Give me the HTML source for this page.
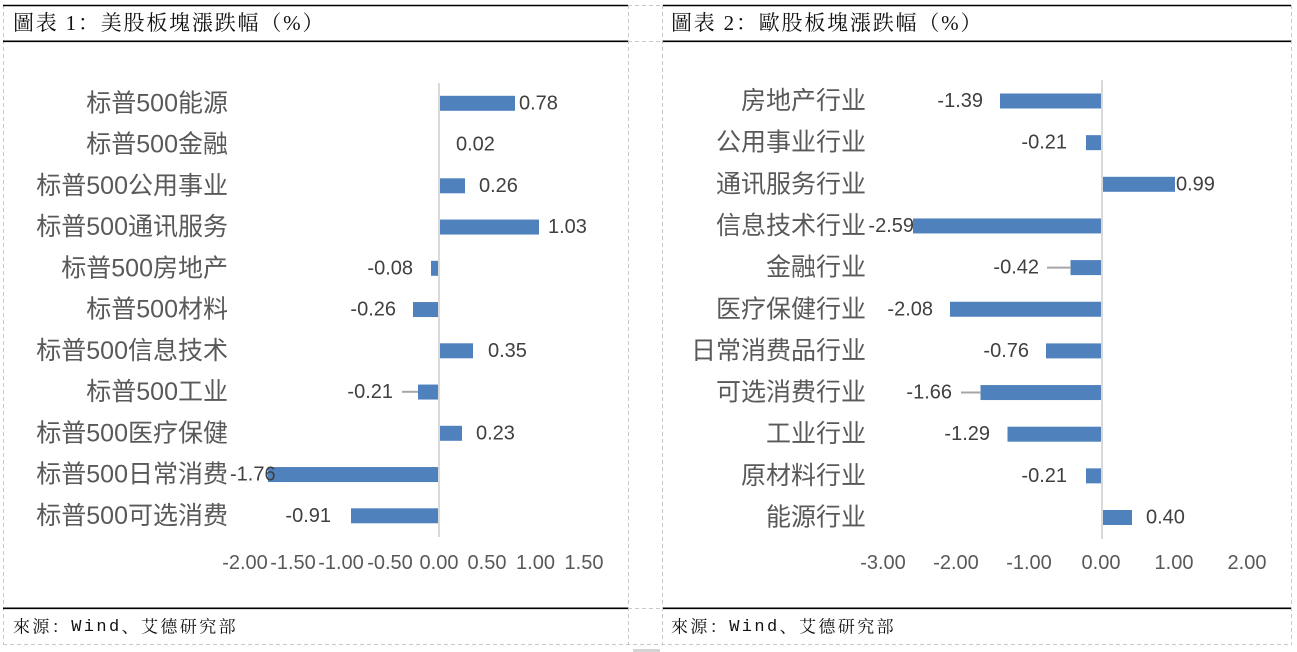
<!DOCTYPE html>
<html>
<head>
<meta charset="utf-8">
<style>
html,body{margin:0;padding:0;background:#fff;}
body{width:1297px;height:652px;overflow:hidden;}
svg{display:block;}
.hd{font-family:"Liberation Serif","Noto Serif CJK SC",serif;font-size:21px;fill:#111;letter-spacing:1.8px;}
.src{font-family:"Liberation Serif","Noto Serif CJK SC",serif;font-size:17px;fill:#111;letter-spacing:2.4px;}
.cat{font-family:"Liberation Sans","Noto Sans CJK SC",sans-serif;font-size:25px;fill:#595959;}
.dl{font-family:"Liberation Sans","Noto Sans CJK SC",sans-serif;font-size:20px;fill:#404040;}
.tk{font-family:"Liberation Sans","Noto Sans CJK SC",sans-serif;font-size:20px;fill:#595959;}
</style>
</head>
<body>
<svg width="1297" height="652" viewBox="0 0 1297 652" xmlns="http://www.w3.org/2000/svg">
  <g stroke="#c8c8c8" stroke-width="1" stroke-dasharray="4,3" fill="none">
    <line x1="3.5" y1="5" x2="3.5" y2="645"/>
    <line x1="628.5" y1="5" x2="628.5" y2="645"/>
    <line x1="662.5" y1="5" x2="662.5" y2="645"/>
    <line x1="1291.5" y1="5" x2="1291.5" y2="645"/>
    <line x1="628" y1="5.5" x2="663" y2="5.5"/>
    <line x1="628" y1="41.5" x2="663" y2="41.5"/>
    <line x1="628" y1="608.5" x2="663" y2="608.5"/>
    <line x1="3" y1="644.5" x2="1292" y2="644.5"/>
  </g>
  <rect x="633" y="649" width="27" height="3" fill="#d4d4d4"/>
  <g stroke="#000" stroke-width="1.6">
    <line x1="3" y1="5.5" x2="628" y2="5.5"/>
    <line x1="663" y1="5.5" x2="1291" y2="5.5"/>
    <line x1="3" y1="41.3" x2="628" y2="41.3"/>
    <line x1="663" y1="41.3" x2="1291" y2="41.3"/>
    <line x1="3" y1="608.3" x2="628" y2="608.3"/>
    <line x1="663" y1="608.3" x2="1291" y2="608.3"/>
  </g>
  <text class="hd" x="13" y="23" dominant-baseline="central">圖表 1：美股板塊漲跌幅（%）</text>
  <text class="hd" x="671" y="23" dominant-baseline="central">圖表 2：歐股板塊漲跌幅（%）</text>
  <text class="src" x="13" y="627" dominant-baseline="central">來源：<tspan font-family="Liberation Mono, monospace">Wind</tspan>、艾德研究部</text>
  <text class="src" x="671" y="627" dominant-baseline="central">來源：<tspan font-family="Liberation Mono, monospace">Wind</tspan>、艾德研究部</text>

  <!-- LEFT CHART -->
  <g fill="#4f81bd">
    <rect x="440" y="95.8" width="75" height="15"/>
    <rect x="440" y="178.3" width="25" height="15"/>
    <rect x="440" y="219.55" width="99" height="15"/>
    <rect x="431" y="260.8" width="7" height="15"/>
    <rect x="413" y="302.05" width="25" height="15"/>
    <rect x="440" y="343.3" width="33" height="15"/>
    <rect x="418" y="384.55" width="20" height="15"/>
    <rect x="440" y="425.8" width="22" height="15"/>
    <rect x="268" y="467.05" width="170" height="15"/>
    <rect x="351" y="508.3" width="87" height="15"/>
  </g>
  <line x1="439" y1="83" x2="439" y2="537" stroke="#d9d9d9" stroke-width="2"/>
  <line x1="402" y1="391.8" x2="418" y2="391.8" stroke="#a6a6a6" stroke-width="2"/>
  <g class="cat" text-anchor="end">
    <text x="228" y="103.3" dominant-baseline="central">标普500能源</text>
    <text x="228" y="144.55" dominant-baseline="central">标普500金融</text>
    <text x="228" y="185.8" dominant-baseline="central">标普500公用事业</text>
    <text x="228" y="227.05" dominant-baseline="central">标普500通讯服务</text>
    <text x="228" y="268.3" dominant-baseline="central">标普500房地产</text>
    <text x="228" y="309.55" dominant-baseline="central">标普500材料</text>
    <text x="228" y="350.8" dominant-baseline="central">标普500信息技术</text>
    <text x="228" y="392.05" dominant-baseline="central">标普500工业</text>
    <text x="228" y="433.3" dominant-baseline="central">标普500医疗保健</text>
    <text x="228" y="474.55" dominant-baseline="central">标普500日常消费</text>
    <text x="228" y="515.8" dominant-baseline="central">标普500可选消费</text>
  </g>
  <g class="dl">
    <text x="519" y="103.3" dominant-baseline="central">0.78</text>
    <text x="456" y="144.55" dominant-baseline="central">0.02</text>
    <text x="479" y="185.8" dominant-baseline="central">0.26</text>
    <text x="548" y="227.05" dominant-baseline="central">1.03</text>
    <text x="413" y="268.3" dominant-baseline="central" text-anchor="end">-0.08</text>
    <text x="396" y="309.55" dominant-baseline="central" text-anchor="end">-0.26</text>
    <text x="488" y="350.8" dominant-baseline="central">0.35</text>
    <text x="393" y="392.05" dominant-baseline="central" text-anchor="end">-0.21</text>
    <text x="476" y="433.3" dominant-baseline="central">0.23</text>
    <text x="230" y="474.55" dominant-baseline="central">-1.76</text>
    <text x="331" y="515.8" dominant-baseline="central" text-anchor="end">-0.91</text>
  </g>
  <g class="tk" text-anchor="middle">
    <text x="245" y="563" dominant-baseline="central">-2.00</text>
    <text x="293" y="563" dominant-baseline="central">-1.50</text>
    <text x="341" y="563" dominant-baseline="central">-1.00</text>
    <text x="390" y="563" dominant-baseline="central">-0.50</text>
    <text x="439" y="563" dominant-baseline="central">0.00</text>
    <text x="487" y="563" dominant-baseline="central">0.50</text>
    <text x="535.5" y="563" dominant-baseline="central">1.00</text>
    <text x="584" y="563" dominant-baseline="central">1.50</text>
  </g>

  <!-- RIGHT CHART -->
  <g fill="#4f81bd">
    <rect x="1000" y="93.5" width="101" height="15"/>
    <rect x="1086" y="135.15" width="15" height="15"/>
    <rect x="1103" y="176.8" width="72" height="15"/>
    <rect x="913" y="218.45" width="188" height="15"/>
    <rect x="1070.5" y="260.1" width="30.5" height="15"/>
    <rect x="950" y="301.75" width="151" height="15"/>
    <rect x="1046" y="343.4" width="55" height="15"/>
    <rect x="980.5" y="385.05" width="120.5" height="15"/>
    <rect x="1007.5" y="426.7" width="93.5" height="15"/>
    <rect x="1086" y="468.35" width="15" height="15"/>
    <rect x="1103" y="510" width="29" height="15"/>
  </g>
  <line x1="1102" y1="80" x2="1102" y2="539" stroke="#d9d9d9" stroke-width="2"/>
  <line x1="1047" y1="267.6" x2="1071" y2="267.6" stroke="#a6a6a6" stroke-width="2"/>
  <line x1="961" y1="392.55" x2="981" y2="392.55" stroke="#a6a6a6" stroke-width="2"/>
  <g class="cat" text-anchor="end">
    <text x="866" y="101" dominant-baseline="central">房地产行业</text>
    <text x="866" y="142.65" dominant-baseline="central">公用事业行业</text>
    <text x="866" y="184.3" dominant-baseline="central">通讯服务行业</text>
    <text x="866" y="225.95" dominant-baseline="central">信息技术行业</text>
    <text x="866" y="267.6" dominant-baseline="central">金融行业</text>
    <text x="866" y="309.25" dominant-baseline="central">医疗保健行业</text>
    <text x="866" y="350.9" dominant-baseline="central">日常消费品行业</text>
    <text x="866" y="392.55" dominant-baseline="central">可选消费行业</text>
    <text x="866" y="434.2" dominant-baseline="central">工业行业</text>
    <text x="866" y="475.85" dominant-baseline="central">原材料行业</text>
    <text x="866" y="517.5" dominant-baseline="central">能源行业</text>
  </g>
  <g class="dl">
    <text x="983" y="101" dominant-baseline="central" text-anchor="end">-1.39</text>
    <text x="1067" y="142.65" dominant-baseline="central" text-anchor="end">-0.21</text>
    <text x="1176" y="184.3" dominant-baseline="central">0.99</text>
    <text x="914" y="225.95" dominant-baseline="central" text-anchor="end">-2.59</text>
    <text x="1039" y="267.6" dominant-baseline="central" text-anchor="end">-0.42</text>
    <text x="933" y="309.25" dominant-baseline="central" text-anchor="end">-2.08</text>
    <text x="1029" y="350.9" dominant-baseline="central" text-anchor="end">-0.76</text>
    <text x="952" y="392.55" dominant-baseline="central" text-anchor="end">-1.66</text>
    <text x="990" y="434.2" dominant-baseline="central" text-anchor="end">-1.29</text>
    <text x="1067" y="475.85" dominant-baseline="central" text-anchor="end">-0.21</text>
    <text x="1146" y="517.5" dominant-baseline="central">0.40</text>
  </g>
  <g class="tk" text-anchor="middle">
    <text x="883" y="563" dominant-baseline="central">-3.00</text>
    <text x="956" y="563" dominant-baseline="central">-2.00</text>
    <text x="1029" y="563" dominant-baseline="central">-1.00</text>
    <text x="1101" y="563" dominant-baseline="central">0.00</text>
    <text x="1174" y="563" dominant-baseline="central">1.00</text>
    <text x="1247" y="563" dominant-baseline="central">2.00</text>
  </g>
</svg>
</body>
</html>
